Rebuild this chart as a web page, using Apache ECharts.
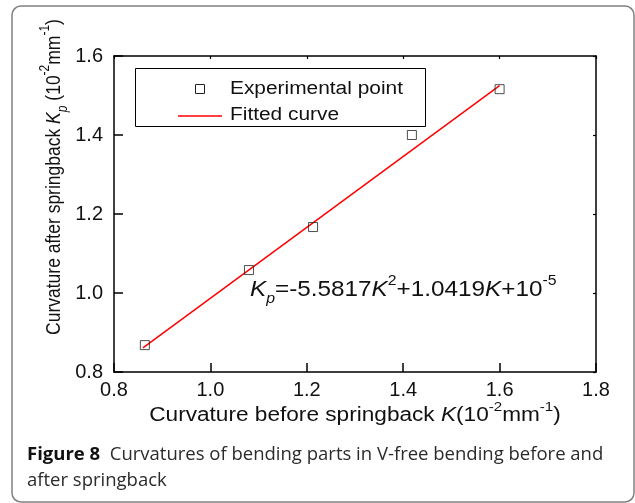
<!DOCTYPE html>
<html>
<head>
<meta charset="utf-8">
<script src="https://cdn.jsdelivr.net/npm/echarts@6/dist/echarts.min.js"></script>
<style>
html,body{margin:0;padding:0;background:#fff;}
#chart{width:635px;height:503px;}
</style>
</head>
<body>
<div id="chart"></div>
<script>
// Data
var expK  = [0.864, 1.080, 1.213, 1.418, 1.600];
var expKp = [0.868, 1.058, 1.167, 1.400, 1.516];
var fitK  = [0.860, 1.600];
var fitKp = [0.861, 1.525];
var xTicks = [0.8, 1.0, 1.2, 1.4, 1.6, 1.8];
var yTicks = [0.8, 1.0, 1.2, 1.4, 1.6];
var legendNames = ['Experimental point', 'Fitted curve'];

var FONT = 'Liberation Sans, Arial, sans-serif';
var SX = 1.16; // horizontal stretch of the reference lettering
var chart = echarts.init(document.getElementById('chart'), null, {renderer: 'canvas'});

var expData = expK.map(function (k, i) { return [k, expKp[i]]; });
var fitData = fitK.map(function (k, i) { return [k, fitKp[i]]; });

var axisLine = {show: true, onZero: false, lineStyle: {color: '#000', width: 1.5}};

function richSet(size, color) {
  var sub = Math.round(size * 0.66);
  return {
    t: {fontFamily: FONT, fontSize: size, fill: color, lineHeight: size + 10},
    i: {fontFamily: FONT, fontSize: size, fontStyle: 'italic', fill: color, lineHeight: size + 10},
    b: {fontFamily: FONT, fontSize: sub, fontStyle: 'italic', fill: color, verticalAlign: 'bottom', lineHeight: size + 10},
    s: {fontFamily: FONT, fontSize: sub, fill: color, verticalAlign: 'top', lineHeight: size + 10}
  };
}

var option = {
  animation: false,
  backgroundColor: '#fff',
  grid: {left: 114, top: 56, right: 39, bottom: 131, containLabel: false},
  xAxis: [{
    type: 'value', min: xTicks[0], max: xTicks[xTicks.length - 1], interval: 0.2,
    position: 'bottom',
    axisLine: axisLine,
    axisTick: {show: true, inside: true, length: 9, lineStyle: {color: '#000', width: 1.5}},
    axisLabel: {show: true, margin: 8, fontFamily: FONT, fontSize: 20, color: '#111',
      formatter: function (v) { return v.toFixed(1); }},
    splitLine: {show: false}
  }, {
    type: 'value', min: xTicks[0], max: xTicks[xTicks.length - 1], interval: 0.2,
    position: 'top',
    axisLine: axisLine,
    axisTick: {show: true, inside: true, length: 3, lineStyle: {color: '#000', width: 1.2}},
    axisLabel: {show: false}, splitLine: {show: false}
  }],
  yAxis: [{
    type: 'value', min: yTicks[0], max: yTicks[yTicks.length - 1], interval: 0.2,
    position: 'left',
    axisLine: axisLine,
    axisTick: {show: true, inside: true, length: 9, lineStyle: {color: '#000', width: 1.5}},
    axisLabel: {show: true, margin: 11, fontFamily: FONT, fontSize: 20, color: '#111',
      formatter: function (v) { return v.toFixed(1); }},
    splitLine: {show: false}
  }, {
    type: 'value', min: yTicks[0], max: yTicks[yTicks.length - 1], interval: 0.2,
    position: 'right',
    axisLine: axisLine,
    axisTick: {show: true, inside: true, length: 3, lineStyle: {color: '#000', width: 1.2}},
    axisLabel: {show: false}, splitLine: {show: false}
  }],
  series: [{
    name: legendNames[1], type: 'line', data: fitData,
    symbol: 'none', lineStyle: {color: '#ff0000', width: 1.5}, itemStyle: {color: '#ff0000'},
    z: 2
  }, {
    name: legendNames[0], type: 'scatter', data: expData,
    symbol: 'rect', symbolSize: 9,
    itemStyle: {color: 'rgba(255,255,255,0)', borderColor: '#222', borderWidth: 1},
    z: 3
  }],
  graphic: [
    // outer rounded frame
    {type: 'rect', silent: true, shape: {x: 12, y: 6, width: 622, height: 496, r: 9},
      style: {fill: 'none', stroke: '#808080', lineWidth: 1.5}},
    // legend box
    {type: 'rect', silent: true, z: 10, shape: {x: 135.5, y: 68.5, width: 290, height: 58},
      style: {fill: '#fff', stroke: '#000', lineWidth: 1}},
    {type: 'rect', silent: true, z: 11, shape: {x: 195.5, y: 84.5, width: 9, height: 9},
      style: {fill: 'none', stroke: '#222', lineWidth: 1}},
    {type: 'line', silent: true, z: 11, shape: {x1: 178, y1: 116, x2: 222, y2: 116},
      style: {stroke: '#ff0000', lineWidth: 1.5}},
    {type: 'text', silent: true, z: 11, x: 230, y: 89, scaleX: SX,
      style: {text: legendNames[0], x: 0, y: 0, align: 'left', verticalAlign: 'middle',
        fontFamily: FONT, fontSize: 18, fill: '#111'}},
    {type: 'text', silent: true, z: 11, x: 230, y: 115, scaleX: SX,
      style: {text: legendNames[1], x: 0, y: 0, align: 'left', verticalAlign: 'middle',
        fontFamily: FONT, fontSize: 18, fill: '#111'}},
    // x axis title
    {type: 'text', silent: true, x: 355, y: 416, scaleX: SX,
      style: {text: '{t|Curvature before springback }{i|K}{t|(10}{s|-2}{t|mm}{s|-1}{t|)}',
        x: 0, y: 0, align: 'center', verticalAlign: 'middle', rich: richSet(19.5, '#111')}},
    // y axis title
    {type: 'text', silent: true, x: 54, y: 177, rotation: Math.PI / 2, scaleY: SX,
      style: {text: '{t|Curvature after springback }{i|K}{b|p}{t| (10}{s|-2}{t|mm}{s|-1}{t|)}',
        x: 0, y: 0, align: 'center', verticalAlign: 'middle', rich: richSet(17.5, '#111')}},
    // fitted equation
    {type: 'text', silent: true, x: 250, y: 290, scaleX: 1.13,
      style: {text: '{i|K}{b|p}{t|=-5.5817}{i|K}{s|2}{t|+1.0419}{i|K}{t|+10}{s|-5}',
        x: 0, y: 0, align: 'left', verticalAlign: 'middle', rich: richSet(21.5, '#111')}},
    // caption
    {type: 'text', silent: true, x: 27, y: 455,
      style: {text: '{b|Figure 8}{t|  Curvatures of bending parts in V-free bending before and}',
        align: 'left', verticalAlign: 'middle',
        rich: {
          b: {fontFamily: 'Open Sans, sans-serif', fontSize: 18.5, fontWeight: 'bold', fill: '#111'},
          t: {fontFamily: 'Open Sans, sans-serif', fontSize: 18.5, fill: '#2b2b2b'}
        }}},
    {type: 'text', silent: true, x: 27, y: 481,
      style: {text: 'after springback', align: 'left', verticalAlign: 'middle',
        fontFamily: 'Open Sans, sans-serif', fontSize: 18.5, fill: '#2b2b2b'}}
  ]
};
chart.setOption(option);
</script>
</body>
</html>
